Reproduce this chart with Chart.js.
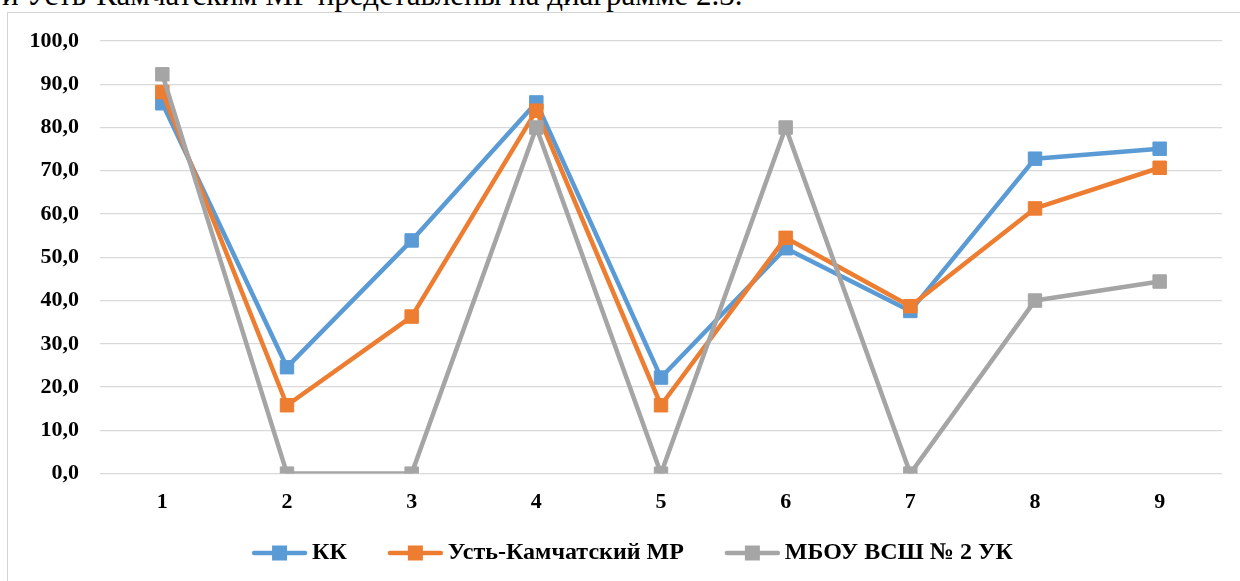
<!DOCTYPE html>
<html lang="ru">
<head>
<meta charset="utf-8">
<title>Диаграмма 2.3</title>
<script src="https://cdn.jsdelivr.net/npm/chart.js@4.4.1/dist/chart.umd.min.js"></script>
<style>
    html, body { margin: 0; padding: 0; background: #fff; overflow: hidden; width: 1240px; height: 581px; }
    #lead-text {
        position: absolute; left: 2px; top: -21px; margin: 0;
        font: 31px/1 "Liberation Serif", "Times New Roman", serif; color: #000; white-space: nowrap;
    }
    #chart-frame {
        position: absolute; left: 7px; top: 12px; width: 1300px; height: 700px;
        border: 1px solid #d4d4d4; box-sizing: border-box;
    }
    #chart-wrap { position: absolute; left: 0; top: 0; width: 1240px; height: 617px; }
</style>
</head>
<body>
<p id="lead-text">и Усть-Камчатским МР представлены на диаграмме 2.3.</p>
<div id="chart-frame"></div>
<div id="chart-wrap"><canvas id="chart-23" width="1240" height="617"></canvas></div>
<script>
/* ---- данные диаграммы 2.3 ---- */
var categories = ['1', '2', '3', '4', '5', '6', '7', '8', '9'];
var seriesNames = ['КК', 'Усть-Камчатский МР', 'МБОУ ВСШ № 2 УК'];
var kkValues = [85.6, 24.6, 53.9, 85.8, 22.2, 52.1, 37.6, 72.8, 75.1];
var districtValues = [88.2, 15.8, 36.3, 83.9, 15.8, 54.5, 38.7, 61.3, 70.7];
var schoolValues = [92.3, 0, 0, 80.0, 0, 80.0, 0, 40.0, 44.4];
var yTickStep = 10;
var yMax = 100;

(function() {
    'use strict';

    var colors = ['#5B9BD5', '#ED7D31', '#A5A5A5'];
    var fontFamily = '"Liberation Serif", "Times New Roman", serif';

    /* значок легенды: линия с квадратным маркером, как в Excel */
    function legendIcon(color) {
        var c = document.createElement('canvas');
        c.width = 57;
        c.height = 18;
        var ctx = c.getContext('2d');
        ctx.strokeStyle = color;
        ctx.lineWidth = 4.5;
        ctx.lineCap = 'round';
        ctx.beginPath();
        ctx.moveTo(3, 9);
        ctx.lineTo(54, 9);
        ctx.stroke();
        ctx.fillStyle = color;
        ctx.fillRect(21, 1.5, 15, 15);
        return c;
    }

    /* ---- легенда ставится под осью, как в исходной диаграмме ---- */
    var legendPlace = {
        id: 'legendPlace',
        afterLayout: function(chart) {
            var lg = chart.legend;
            if (!lg) return;
            var h = lg.height;
            lg.top = 493;
            lg.bottom = lg.top + h;
            lg.left = 50;
            lg.right = 1222;
        }
    };

    var allValues = [kkValues, districtValues, schoolValues];
    var datasets = allValues.map(function(values, i) {
        return {
            label: seriesNames[i],
            data: values,
            borderColor: colors[i],
            backgroundColor: colors[i],
            borderWidth: 4.5,
            borderJoinStyle: 'round',
            borderCapStyle: 'round',
            pointStyle: 'rect',
            pointRadius: 9.5,
            pointBorderWidth: 1,
            pointBorderColor: colors[i],
            pointBackgroundColor: colors[i],
            pointHoverRadius: 9.5,
            tension: 0,
            fill: false,
            order: 3 - i,
            legendIcon: legendIcon(colors[i])
        };
    });

    new Chart(document.getElementById('chart-23'), {
        type: 'line',
        data: { labels: categories, datasets: datasets },
        plugins: [legendPlace],
        options: {
            responsive: false,
            animation: false,
            devicePixelRatio: 1,
            layout: { padding: { left: 7, right: 18, top: 41, bottom: 3 } },
            plugins: {
                tooltip: { enabled: false },
                title: { display: false },
                legend: {
                    display: true,
                    position: 'bottom',
                    labels: {
                        usePointStyle: true,
                        pointStyleWidth: 41,
                        boxHeight: 24,
                        padding: 48,
                        color: '#000',
                        font: { family: fontFamily, size: 24, weight: 'bold' },
                        generateLabels: function(chart) {
                            return chart.data.datasets.map(function(ds, i) {
                                return {
                                    text: ds.label,
                                    fillStyle: ds.borderColor,
                                    strokeStyle: ds.borderColor,
                                    lineWidth: 0,
                                    pointStyle: ds.legendIcon,
                                    hidden: false,
                                    datasetIndex: i
                                };
                            });
                        }
                    }
                }
            },
            scales: {
                x: {
                    type: 'category',
                    offset: true,
                    grid: { display: false, drawTicks: false },
                    border: { display: false },
                    ticks: {
                        padding: 16,
                        color: '#000',
                        font: { family: fontFamily, size: 22, weight: 'bold' }
                    }
                },
                y: {
                    min: 0,
                    max: yMax,
                    grid: { color: '#d9d9d9', lineWidth: 1.3, drawTicks: false },
                    border: { display: false },
                    ticks: {
                        stepSize: yTickStep,
                        padding: 21,
                        color: '#000',
                        font: { family: fontFamily, size: 22, weight: 'bold' },
                        callback: function(v) { return v.toFixed(1).replace('.', ','); }
                    },
                    afterFit: function(scale) { scale.width = 93; }
                }
            }
        }
    });
})();
</script>
</body>
</html>
